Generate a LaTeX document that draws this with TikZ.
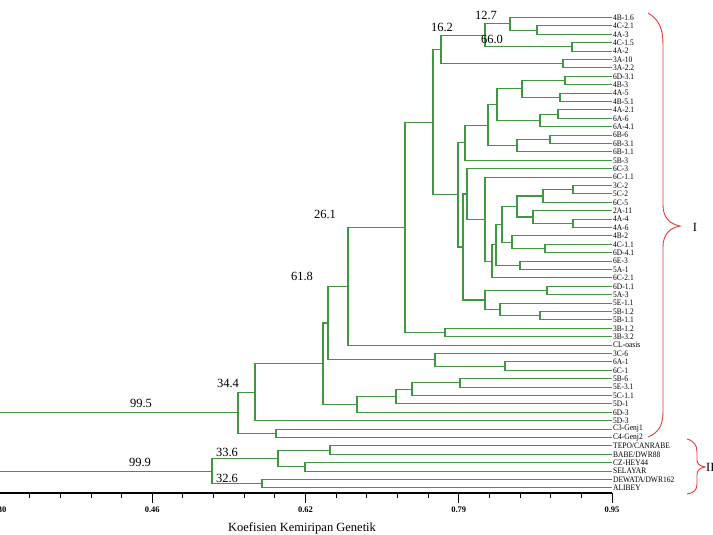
\documentclass[tikz,border=0pt]{standalone}
\usepackage{fontspec}
\setmainfont{Liberation Serif}
\usetikzlibrary{calc}
\definecolor{treegreen}{RGB}{62,152,62}
\definecolor{bracered}{RGB}{232,56,56}
% join two children at x = #2 (px), parent coordinate named #1
\newcommand{\merge}[4]{%
  \path let \p1=(#3), \p2=(#4) in ({#2pt},{0.5*(\y1+\y2)}) coordinate (#1);
  \draw[branch] (#3) -| (#1) (#4) -| (#1);
}

\begin{document}
\begin{tikzpicture}[
      x=1pt, y=-1pt,
      branch/.style={draw=treegreen, line width=1.1pt},
      leaf/.style={anchor=west, inner xsep=1pt, inner ysep=0pt,
                   font=\fontsize{7.5}{7.5}\selectfont},
      pct/.style={font=\fontsize{12.5}{12.5}\selectfont, inner sep=0pt},
      axis/.style={draw=black, line width=1.2pt},
      ticklab/.style={font=\bfseries\fontsize{8.5}{8.5}\selectfont, inner sep=0pt},
      brace/.style={draw=bracered, line width=0.9pt}
  ]
    \useasboundingbox (0,0) rectangle (713,535);
    \clip (0,0) rectangle (713,535);

    % leaves
    \foreach \lab [count=\i] in {4B-1.6, 4C-2.1, 4A-3, 4C-1.5, 4A-2, 3A-10, 3A-2.2,
        6D-3.1, 4B-3, 4A-5, 4B-5.1, 4A-2.1, 6A-6, 6A-4.1, 6B-6, 6B-3.1, 6B-1.1,
        5B-3, 6C-3, 6C-1.1, 3C-2, 5C-2, 6C-5, 2A-11, 4A-4, 4A-6, 4B-2, 4C-1.1,
        6D-4.1, 6E-3, 5A-1, 6C-2.1, 6D-1.1, 5A-3, 5E-1.1, 5B-1.2, 5B-1.1, 3B-1.2,
        3B-3.2, CL-oasis, 3C-6, 6A-1, 6C-1, 5B-6, 5E-3.1, 5C-1.1, 5D-1, 6D-3,
        5D-3, C3-Genj1, C4-Genj2, TEPO/CANRABE, BABE/DWR88, CZ-HEY44, SELAYAR,
        DEWATA/DWR162, ALIBEY}
      \node[leaf] (l\i) at (612,{17.5+(\i-1)*8.4}) {\scalebox{1}[1.12]{\lab}};

    % cluster I, top part
    \merge{n1}{537}{l2}{l3}
    \merge{n2}{510}{l1}{n1}
    \merge{n3}{572}{l4}{l5}
    \merge{n4}{485}{n2}{n3}
    \merge{n5}{563}{l6}{l7}
    \merge{n6}{441}{n4}{n5}
    \merge{n7}{565}{l8}{l9}
    \merge{n8}{560}{l10}{l11}
    \merge{n9}{522}{n7}{n8}
    \merge{n10}{558}{l12}{l13}
    \merge{n11}{540}{n10}{l14}
    \merge{n12}{497}{n9}{n11}
    \merge{n13}{550}{l15}{l16}
    \merge{n14}{517}{n13}{l17}
    \merge{n15}{488}{n12}{n14}
    \merge{n16}{465}{n15}{l18}
    % cluster I, middle part
    \merge{m1}{573}{l21}{l22}
    \merge{m2}{543}{m1}{l23}
    \merge{m3}{573}{l25}{l26}
    \merge{m4}{533}{l24}{m3}
    \merge{m5}{517}{m2}{m4}
    \merge{m6}{545}{l28}{l29}
    \merge{m7}{512}{l27}{m6}
    \merge{m8}{502}{m5}{m7}
    \merge{m9}{520}{l30}{l31}
    \merge{m10}{496}{m8}{m9}
    \merge{m11}{492}{m10}{l32}
    \merge{m12}{485}{l20}{m11}
    \merge{m13}{467}{l19}{m12}
    \merge{m14}{547}{l33}{l34}
    \merge{m15}{540}{l36}{l37}
    \merge{m16}{500}{l35}{m15}
    \merge{m17}{485}{m14}{m16}
    \merge{m18}{463}{m13}{m17}
    \merge{m19}{458}{n16}{m18}
    \merge{m20}{433}{n6}{m19}
    \merge{m21}{445}{l38}{l39}
    \merge{m22}{405}{m20}{m21}
    \merge{m23}{348}{m22}{l40}
    % cluster I, lower part
    \merge{k1}{505}{l42}{l43}
    \merge{k2}{435}{l41}{k1}
    \merge{k3}{328}{m23}{k2}
    \merge{k4}{460}{l44}{l45}
    \merge{k5}{412}{k4}{l46}
    \merge{k6}{396}{k5}{l47}
    \merge{k7}{357}{k6}{l48}
    \merge{k8}{323}{k3}{k7}
    \merge{k9}{255}{k8}{l49}
    \merge{k10}{276}{l50}{l51}
    \merge{rootI}{238}{k9}{k10}
    % cluster II
    \merge{g1}{330}{l52}{l53}
    \merge{g2}{305}{l54}{l55}
    \merge{g3}{278}{g1}{g2}
    \merge{g4}{262}{l56}{l57}
    \merge{rootII}{212}{g3}{g4}

    \coordinate (edge) at (-4,0);
    \draw[branch] (rootI) -- (rootI -| edge);
    \draw[branch] (rootII) -- (rootII -| edge);

    % bootstrap values
    \node[pct] (b127) at (486,15)  {12.7};
    \node[pct] (b162) at (442,27)  {16.2};
    \node[pct] (b660) at (492,39)  {66.0};
    \node[pct] (b261) at (325,214) {26.1};
    \node[pct] (b618) at (302,276) {61.8};
    \node[pct] (b344) at (228,383) {34.4};
    \node[pct] (b995) at (141,403) {99.5};
    \node[pct] (b336) at (227,452) {33.6};
    \node[pct] (b999) at (140,462) {99.9};
    \node[pct] (b326) at (227,478) {32.6};

    % axis
    \coordinate (ax0) at (-1,493);
    \coordinate (ax1) at (612,493);
    \draw[axis] (ax0) -- (ax1);
    \foreach \k in {0,...,20}
      \draw[axis, line width=0.9pt] ({-1+30.65*\k},493) -- ++(0,5);
    \foreach \v [count=\k from 0] in {0.30,0.46,0.62,0.79,0.95} {
      \draw[axis, line width=0.9pt] ({-1+153.25*\k},493) -- ++(0,10);
      \node[ticklab] (t\k) at ({-1+153.25*\k},510) {\v};
    }
    \node[pct] (axtitle) at (302,528) {Koefisien Kemiripan Genetik};

    % groups
    \draw[brace] (648,13) .. controls (660,20) and (663,30) .. (663,45)
      -- (663,205) .. controls (663,218) and (670,224) .. (680,226)
      .. controls (670,228) and (663,234) .. (663,247)
      -- (663,412) .. controls (663,426) and (658,433) .. (648,437);
    \node[pct] (grpI) at (695,227) {I};
    \draw[brace] (687,439) .. controls (694,441) and (697,445) .. (697,452)
      -- (697,460) .. controls (697,464) and (700,466) .. (705,467)
      .. controls (700,468) and (697,470) .. (697,475)
      -- (697,484) .. controls (697,490) and (694,493) .. (687,494);
    \node[pct, anchor=west] (grpII) at (706,467) {II};
\end{tikzpicture}
\end{document}
